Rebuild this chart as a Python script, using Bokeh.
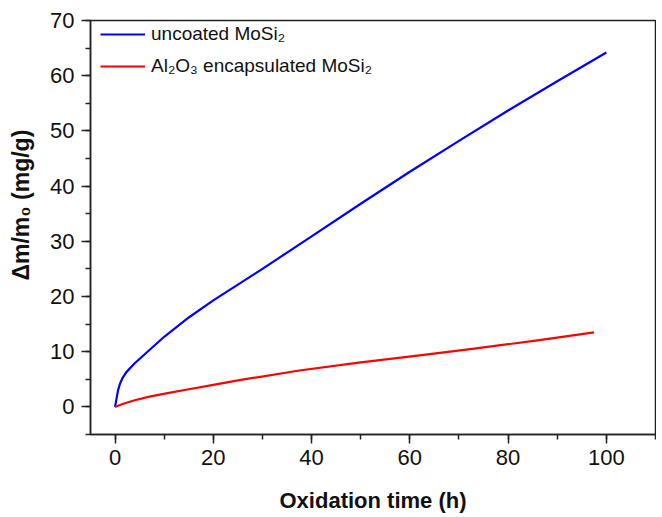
from bokeh.plotting import figure
from bokeh.models import Range1d, SingleIntervalTicker, Legend, LegendItem
from bokeh.embed import file_html
from bokeh.resources import INLINE

# Data
uncoated_t = [0, 0.3, 0.6, 1, 1.5, 2.3, 4, 7, 10, 15, 20, 30, 40, 50, 60, 70, 80, 90, 100]
uncoated_dm = [0, 1.5, 3.0, 4.2, 5.2, 6.3, 7.9, 10.3, 12.7, 16.2, 19.3, 25.0, 30.9, 36.8, 42.6, 48.2, 53.7, 59.0, 64.2]

coated_t = [0, 1, 2, 4, 7, 10.7, 15, 20, 25, 37.5, 50, 62, 73.5, 86, 97.5]
coated_dm = [0, 0.35, 0.65, 1.2, 1.85, 2.5, 3.2, 4.0, 4.8, 6.6, 8.05, 9.35, 10.6, 12.05, 13.5]

label_uncoated = "uncoated MoSi\u2082"
label_coated = "Al\u2082O\u2083 encapsulated MoSi\u2082"
x_label = "Oxidation time (h)"
y_label = "\u0394m/m\u2080 (mg/g)"

FONT = "Liberation Sans"

W, H = 656, 517
p = figure(width=W, height=H, output_backend="svg", toolbar_location=None,
           x_range=Range1d(-5, 110), y_range=Range1d(-5, 70),
           min_border_left=90, min_border_top=20, min_border_right=W - 655,
           min_border_bottom=H - 434)

p.xgrid.visible = False
p.ygrid.visible = False
p.outline_line_color = "#222222"
p.outline_line_width = 1.5

r1 = p.line(uncoated_t, uncoated_dm, line_color="#0000ff", line_width=2.2, line_join="round")
r2 = p.line(coated_t, coated_dm, line_color="#ff0000", line_width=2.2, line_join="round")

p.xaxis.ticker = SingleIntervalTicker(interval=20, num_minor_ticks=2)
p.yaxis.ticker = SingleIntervalTicker(interval=10, num_minor_ticks=2)

for ax in (p.xaxis, p.yaxis):
    ax.axis_line_width = 1.5
    ax.axis_line_color = "#222222"
    ax.major_tick_line_width = 1.5
    ax.minor_tick_line_width = 1.5
    ax.major_tick_line_color = "#222222"
    ax.minor_tick_line_color = "#222222"
    ax.major_tick_out = 9
    ax.major_tick_in = 0
    ax.minor_tick_out = 5
    ax.minor_tick_in = 0
    ax.major_label_text_font = FONT
    ax.major_label_text_font_size = "22px"
    ax.major_label_text_color = "#111111"
    ax.axis_label_text_font = FONT
    ax.axis_label_text_font_size = "22px"
    ax.axis_label_text_font_style = "bold"
    ax.axis_label_text_color = "#111111"

p.xaxis.axis_label = x_label
# the reference's y title sits above the frame centre: pad its start with no-break spaces
p.yaxis.axis_label = "\u00a0" * 7 + y_label
p.yaxis.axis_label_text_font_size = "23px"
p.xaxis.major_label_standoff = 6
p.xaxis.axis_label_standoff = 20
p.yaxis.major_label_standoff = 7
p.yaxis.axis_label_standoff = 13

legend = Legend(items=[LegendItem(label=label_uncoated, renderers=[r1]),
                       LegendItem(label=label_coated, renderers=[r2])],
                location=(10, 357))
legend.label_text_font = FONT
legend.label_text_font_size = "19px"
legend.label_text_color = "#111111"
legend.glyph_width = 45
legend.glyph_height = 20
legend.label_height = 20
legend.spacing = 10
legend.label_standoff = 6
legend.padding = 0
legend.margin = 0
legend.border_line_alpha = 0
legend.background_fill_alpha = 0
p.add_layout(legend)

open("out.html", "w").write(file_html(p, INLINE))
